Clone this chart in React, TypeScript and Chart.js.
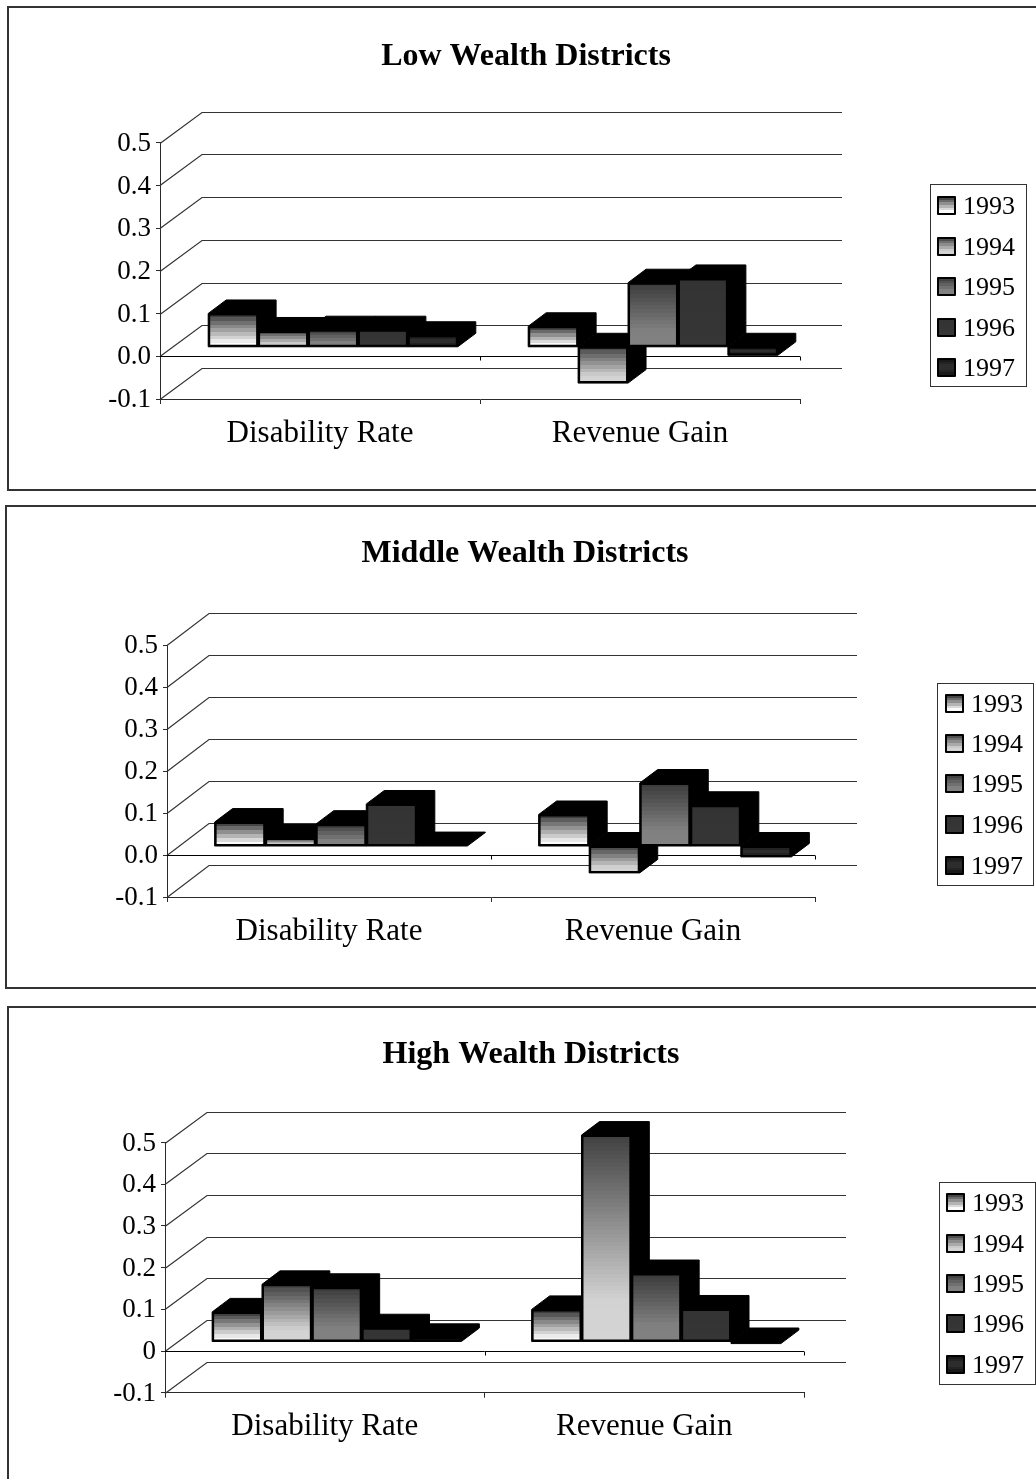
import React, { useEffect, useRef } from "react";
import { Chart, registerables } from "chart.js";

Chart.register(...registerables);

const categories = ["Disability Rate", "Revenue Gain"];
const years = ["1993", "1994", "1995", "1996", "1997"];

// Change by year within each wealth group.
const lowDisability = [0.078, 0.037, 0.04, 0.04, 0.027];
const lowRevenue = [0.048, -0.085, 0.15, 0.16, -0.02];
const middleDisability = [0.057, 0.019, 0.052, 0.1, 0.001];
const middleRevenue = [0.075, -0.064, 0.15, 0.097, -0.026];
const highDisability = [0.071, 0.137, 0.13, 0.033, 0.01];
const highRevenue = [0.077, 0.495, 0.163, 0.078, -0.005];

const SERIF = '"Liberation Serif", "Times New Roman", serif';

// Grey ramps for the face of each year's bar, top to bottom: [position, grey level].
const ramps: [number, number][][] = [
  [[0, 50], [0.9, 250], [1, 255]],
  [[0, 64], [0.8, 210], [1, 212]],
  [[0, 58], [0.75, 128], [1, 130]],
  [[0, 51], [1, 54]],
  [[0, 20], [0.5, 50], [1, 20]],
];

type Panel = {
  title: string;
  disability: number[];
  revenue: number[];
  zeroLabel: string;
  frame: { left: number; top: number; bottom: number | null };
  titleCenter: { x: number; y: number };
  plot: { left: number; right: number; top: number; bottom: number };
  plane: { dx: number; dy: number };
  back: { dx: number; dy: number };
  legend: { left: number; right: number; top: number; bottom: number; swatch: number; text: number; rows: number[] };
};

const panels: Panel[] = [
  {
    title: "Low Wealth Districts",
    disability: lowDisability,
    revenue: lowRevenue,
    zeroLabel: "0.0",
    frame: { left: 7, top: 6, bottom: 491 },
    titleCenter: { x: 526, y: 57 },
    plot: { left: 160, right: 800, top: 142.7, bottom: 399 },
    plane: { dx: 13, dy: 9.5 },
    back: { dx: 42, dy: 32 },
    legend: { left: 930, right: 1026, top: 184, bottom: 386, swatch: 938, text: 963, rows: [205, 246, 286, 327, 367] },
  },
  {
    title: "Middle Wealth Districts",
    disability: middleDisability,
    revenue: middleRevenue,
    zeroLabel: "0.0",
    frame: { left: 5, top: 505, bottom: 989 },
    titleCenter: { x: 525, y: 554 },
    plot: { left: 167, right: 815, top: 645, bottom: 897 },
    plane: { dx: 12, dy: 9 },
    back: { dx: 42, dy: 33 },
    legend: { left: 937, right: 1033, top: 683, bottom: 885, swatch: 946, text: 971, rows: [703, 743, 783, 824, 865] },
  },
  {
    title: "High Wealth Districts",
    disability: highDisability,
    revenue: highRevenue,
    zeroLabel: "0",
    frame: { left: 7, top: 1006, bottom: null },
    titleCenter: { x: 531, y: 1055 },
    plot: { left: 165, right: 804, top: 1142.5, bottom: 1392.7 },
    plane: { dx: 12, dy: 9.5 },
    back: { dx: 42, dy: 32 },
    legend: { left: 939, right: 1035, top: 1182, bottom: 1384, swatch: 947, text: 972, rows: [1202, 1243, 1283, 1323, 1364] },
  },
];

function sampleRamp(ramp: [number, number][], t: number): string {
  for (let i = 1; i < ramp.length; i++) {
    const [p0, g0] = ramp[i - 1];
    const [p1, g1] = ramp[i];
    if (t <= p1) {
      const g = Math.round(g0 + ((t - p0) / (p1 - p0)) * (g1 - g0));
      return `rgb(${g},${g},${g})`;
    }
  }
  const g = ramp[ramp.length - 1][1];
  return `rgb(${g},${g},${g})`;
}

// Stepped vertical fill, so the shading shows fine bands on any bar height.
function bandedFill(c: CanvasRenderingContext2D, y0: number, y1: number, ramp: [number, number][]) {
  const g = c.createLinearGradient(0, y0, 0, y1);
  const bands = Math.max(6, Math.ceil((y1 - y0) / 4));
  for (let i = 0; i < bands; i++) {
    const col = sampleRamp(ramp, (i + 0.5) / bands);
    g.addColorStop(i / bands, col);
    g.addColorStop((i + 1) / bands, col);
  }
  return g;
}

function line(c: CanvasRenderingContext2D, pts: number[][]) {
  c.beginPath();
  pts.forEach(([x, y], i) => (i ? c.lineTo(x, y) : c.moveTo(x, y)));
  c.stroke();
}

// Draws the receding walls, the zero axis, the bars' black depth and the key.
function depthPlugin(p: Panel, originY: number) {
  return {
    id: "depth",
    afterLayout(chart: any) {
      // The heading is centred on the panel rather than on the plot.
      chart.titleBlock.left = 0;
      chart.titleBlock.right = 2 * p.titleCenter.x;
    },
    beforeDatasetsDraw(chart: any) {
      const c: CanvasRenderingContext2D = chart.ctx;
      const { y } = chart.scales;
      const left = chart.chartArea.left;
      const right = chart.chartArea.right;
      c.save();
      c.strokeStyle = "#333";
      c.lineWidth = 1.2;
      for (const tick of y.ticks) {
        const py = Math.round(y.getPixelForValue(tick.value)) + 0.5;
        const by = Math.round(py - p.back.dy) + 0.5;
        line(c, [[left, py], [left + p.back.dx, by], [right + p.back.dx, by]]);
      }
      const zero = Math.round(y.getPixelForValue(0)) + 0.5;
      c.strokeStyle = "#000";
      c.lineWidth = 1;
      line(c, [[left, zero], [right, zero]]);
      const w = (right - left) / categories.length;
      for (let i = 1; i <= categories.length; i++) {
        const tx = Math.round(left + w * i) + 0.5;
        line(c, [[tx, zero], [tx, zero + 4]]);
      }

      c.translate(p.plane.dx, -p.plane.dy);
      c.fillStyle = "#000";
      c.strokeStyle = "#000";
      const dx = 18;
      const dy = 13.5;
      chart.data.datasets.forEach((_: any, i: number) => {
        for (const bar of chart.getDatasetMeta(i).data) {
          const x0 = bar.x - bar.width / 2;
          const x1 = bar.x + bar.width / 2;
          const yTop = Math.min(bar.y, bar.base);
          const yBot = Math.max(bar.y, bar.base);
          c.beginPath();
          c.moveTo(x0, yTop);
          c.lineTo(x0 + dx, yTop - dy);
          c.lineTo(x1 + dx, yTop - dy);
          c.lineTo(x1 + dx, yBot - dy);
          c.lineTo(x1, yBot);
          c.lineTo(x0, yBot);
          c.closePath();
          c.fill();
          c.stroke();
        }
      });
      c.restore();
      // Bar faces sit on a plane set back from the front axes.
      c.save();
      c.translate(p.plane.dx, -p.plane.dy);
    },
    afterDatasetsDraw(chart: any) {
      chart.ctx.restore();
    },
    afterDraw(chart: any) {
      const c: CanvasRenderingContext2D = chart.ctx;
      const l = p.legend;
      c.save();
      c.translate(0, -originY);
      c.fillStyle = "#fff";
      c.strokeStyle = "#333";
      c.lineWidth = 1;
      c.fillRect(l.left, l.top, l.right - l.left, l.bottom - l.top);
      c.strokeRect(l.left + 0.5, l.top + 0.5, l.right - l.left, l.bottom - l.top);
      c.font = `26px ${SERIF}`;
      c.textBaseline = "middle";
      c.lineJoin = "round";
      chart.data.datasets.forEach((ds: any, i: number) => {
        const cy = l.rows[i];
        c.fillStyle = bandedFill(c, cy - 8, cy + 8, ramps[i]);
        c.fillRect(l.swatch, cy - 8, 17, 17);
        c.strokeStyle = "#000";
        c.lineWidth = 2;
        c.strokeRect(l.swatch, cy - 8, 17, 17);
        c.fillStyle = "#000";
        c.fillText(ds.label, l.text, cy + 2);
      });
      c.restore();
    },
  };
}

function ChartPanel({ panel }: { panel: Panel }) {
  const ref = useRef<HTMLCanvasElement>(null);
  const originY = panel.frame.top;
  const width = 1036;
  const height = (panel.frame.bottom ?? 1479) - originY;

  useEffect(() => {
    const canvas = ref.current!;
    const plotTop = panel.plot.top - originY;
    const plotBottom = panel.plot.bottom - originY;
    const titleFont = 32;
    const titleLine = titleFont * 1.2;
    const titleTop = panel.titleCenter.y - originY - titleLine / 2;

    const chart = new Chart(canvas, {
      type: "bar",
      data: {
        labels: categories,
        datasets: years.map((year, i) => ({
          label: year,
          data: [panel.disability[i], panel.revenue[i]],
          categoryPercentage: 0.78,
          barPercentage: 1,
          borderColor: "#000",
          borderWidth: 2,
          borderSkipped: false,
          inflateAmount: 0,
          backgroundColor: (ctx: any) => {
            const y = ctx.chart.scales.y;
            if (ctx.raw === undefined || !y) return "#808080";
            const a = y.getPixelForValue(ctx.raw);
            const b = y.getPixelForValue(0);
            if (!Number.isFinite(a) || !Number.isFinite(b)) return "#808080";
            return bandedFill(ctx.chart.ctx, Math.min(a, b), Math.max(a, b), ramps[i]);
          },
        })),
      },
      options: {
        responsive: false,
        animation: false,
        devicePixelRatio: 1,
        layout: {
          autoPadding: false,
          padding: { left: 0, top: 0, bottom: 0, right: width - panel.plot.right },
        },
        plugins: {
          legend: { display: false },
          tooltip: { enabled: false },
          title: {
            display: true,
            text: panel.title,
            color: "#000",
            font: { family: SERIF, size: titleFont, weight: "bold" },
            padding: { top: titleTop, bottom: plotTop - titleTop - titleLine },
          },
        },
        scales: {
          x: {
            type: "category",
            afterFit: (s: any) => {
              s.height = height - plotBottom;
            },
            grid: { drawOnChartArea: false, drawTicks: true, tickLength: 5, tickColor: "#2a2a2a", offset: true },
            border: { color: "#2a2a2a" },
            ticks: {
              color: "#000",
              padding: 11,
              maxRotation: 0,
              font: { family: SERIF, size: 31 },
            },
          },
          y: {
            type: "linear",
            min: -0.1,
            max: 0.5,
            afterFit: (s: any) => {
              s.width = panel.plot.left;
            },
            grid: { drawOnChartArea: false, drawTicks: true, tickLength: 4, tickColor: "#2a2a2a" },
            border: { color: "#2a2a2a" },
            ticks: {
              stepSize: 0.1,
              color: "#000",
              padding: 5,
              labelOffset: 1,
              font: { family: SERIF, size: 27 },
              callback: (v: any) => (Math.abs(Number(v)) < 1e-9 ? panel.zeroLabel : Number(v).toFixed(1)),
            },
          },
        },
      },
      plugins: [depthPlugin(panel, originY)],
    } as any);
    return () => chart.destroy();
  }, []);

  const frameHeight = (panel.frame.bottom ?? 1481) - panel.frame.top;
  return (
    <>
      <div
        style={{
          position: "absolute",
          boxSizing: "border-box",
          left: panel.frame.left,
          top: panel.frame.top,
          width: 1040 - panel.frame.left,
          height: frameHeight,
          border: "2px solid #333",
        }}
      />
      <canvas
        ref={ref}
        width={width}
        height={height}
        style={{ position: "absolute", left: 0, top: originY, width, height, display: "block" }}
      />
    </>
  );
}

export default function App() {
  return (
    <div style={{ position: "absolute", left: 0, top: 0, width: 1036, height: 1479, overflow: "hidden", background: "#fff" }}>
      {panels.map((p) => (
        <ChartPanel key={p.title} panel={p} />
      ))}
    </div>
  );
}
